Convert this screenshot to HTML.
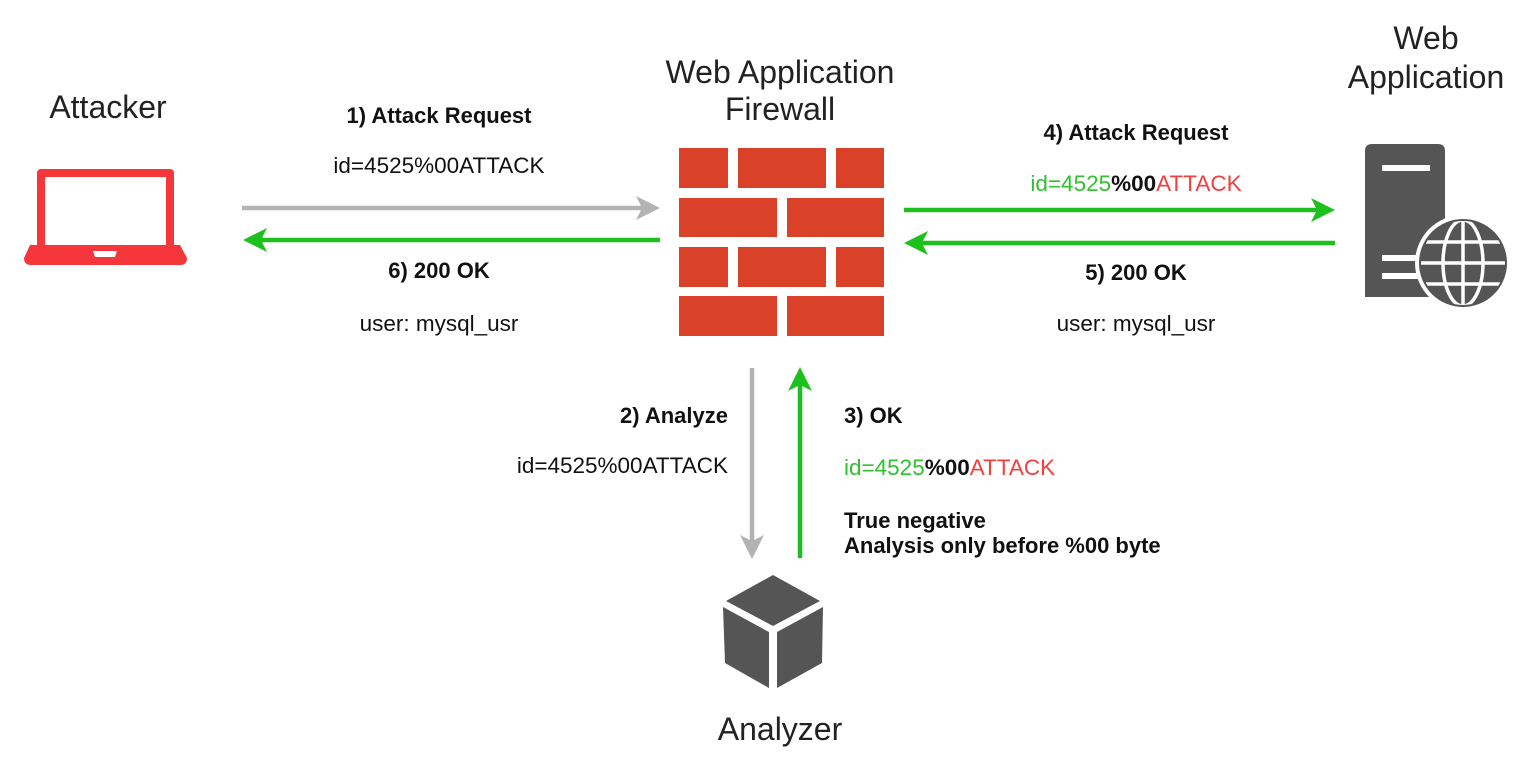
<!DOCTYPE html>
<html><head><meta charset="utf-8"><style>
html,body{margin:0;padding:0;background:#fff;}
svg{display:block;}
text{font-family:"Liberation Sans",Arial,sans-serif;}
</style></head><body>
<svg width="1536" height="757" viewBox="0 0 1536 757" xmlns="http://www.w3.org/2000/svg">
<rect width="1536" height="757" fill="#fff"/>
<!-- titles -->
<g font-size="32" fill="#222" text-anchor="middle">
<text x="108" y="118">Attacker</text>
<text x="780" y="83">Web Application</text>
<text x="780" y="120">Firewall</text>
<text x="1426" y="49">Web</text>
<text x="1426" y="88">Application</text>
<text x="780" y="740">Analyzer</text>
</g>
<!-- laptop -->
<rect x="37" y="169" width="137" height="80" rx="4" fill="#f5363a"/>
<rect x="45" y="177" width="121" height="68" fill="#fff"/>
<path d="M30 245 H180 L187 258 Q187 265 180 265 H31 Q24 265 24 258 Z" fill="#f5363a"/>
<path d="M93 251 H117 L115 257 H95 Z" fill="#fff"/>
<!-- wall -->
<g fill="#d94128">
<rect x="679" y="148" width="49" height="40"/><rect x="738" y="148" width="88" height="40"/><rect x="836" y="148" width="48" height="40"/>
<rect x="679" y="198" width="98" height="39"/><rect x="787" y="198" width="97" height="39"/>
<rect x="679" y="247" width="49" height="40"/><rect x="738" y="247" width="88" height="40"/><rect x="836" y="247" width="48" height="40"/>
<rect x="679" y="296" width="98" height="40"/><rect x="787" y="296" width="97" height="40"/>
</g>
<!-- server -->
<path d="M1372 144 H1438 Q1445 144 1445 151 V297 H1365 V151 Q1365 144 1372 144 Z" fill="#555"/>
<rect x="1382" y="165" width="48" height="6" fill="#fff"/>
<rect x="1382" y="255" width="40" height="6" fill="#fff"/>
<rect x="1382" y="273" width="40" height="6" fill="#fff"/>
<circle cx="1463" cy="263" r="48" fill="#fff"/>
<circle cx="1463" cy="263" r="43" fill="#555"/>
<g stroke="#fff" stroke-width="3.5" fill="none">
<ellipse cx="1463" cy="263" rx="20" ry="43"/>
<line x1="1463" y1="220" x2="1463" y2="306"/>
<line x1="1420" y1="263" x2="1506" y2="263"/>
<line x1="1426" y1="242" x2="1500" y2="242"/>
<line x1="1426" y1="284" x2="1500" y2="284"/>
</g>
<circle cx="1463" cy="263" r="43" fill="none" stroke="#555" stroke-width="2"/>
<!-- cube -->
<polygon points="773,575 820,601 773,626 726,601" fill="#555"/>
<polygon points="723,607 769,632 769,688 725,663" fill="#555"/>
<polygon points="823,607 777,632 777,688 822,663" fill="#555"/>
<!-- arrows -->
<g stroke-width="4.5">
<line x1="242" y1="208" x2="645" y2="208" stroke="#b3b3b3"/>
<line x1="660" y1="240" x2="258" y2="240" stroke="#1ec01e"/>
<line x1="904" y1="210" x2="1320" y2="210" stroke="#1ec01e"/>
<line x1="1335" y1="243" x2="920" y2="243" stroke="#1ec01e"/>
<line x1="752" y1="368" x2="752" y2="545" stroke="#b3b3b3"/>
<line x1="800" y1="558" x2="800" y2="382" stroke="#1ec01e"/>
</g>
<polygon points="660,208 636,196 642,208 636,220" fill="#b3b3b3"/>
<polygon points="243,240 267,228 261,240 267,252" fill="#1ec01e"/>
<polygon points="1335,210 1311,198 1317,210 1311,222" fill="#1ec01e"/>
<polygon points="904,243 928,231 922,243 928,255" fill="#1ec01e"/>
<polygon points="752,559 740,535 752,541 764,535" fill="#b3b3b3"/>
<polygon points="800,367 788,391 800,385 812,391" fill="#1ec01e"/>
<!-- labels -->
<g font-size="22.5" fill="#111">
<text x="439" y="123" font-weight="bold" font-size="22" text-anchor="middle">1) Attack Request</text>
<text x="439" y="173" text-anchor="middle">id=4525%00ATTACK</text>
<text x="439" y="278" font-weight="bold" font-size="22" text-anchor="middle">6) 200 OK</text>
<text x="439" y="331" text-anchor="middle">user: mysql_usr</text>
<text x="1136" y="140" font-weight="bold" font-size="22" text-anchor="middle">4) Attack Request</text>
<text x="1136" y="191" text-anchor="middle"><tspan fill="#2fc12f">id=4525</tspan><tspan font-weight="bold">%00</tspan><tspan fill="#f0403f">ATTACK</tspan></text>
<text x="1136" y="280" font-weight="bold" font-size="22" text-anchor="middle">5) 200 OK</text>
<text x="1136" y="331" text-anchor="middle">user: mysql_usr</text>
<text x="728" y="423" font-weight="bold" font-size="22" text-anchor="end">2) Analyze</text>
<text x="728" y="473" text-anchor="end">id=4525%00ATTACK</text>
<text x="844" y="423" font-weight="bold" font-size="22">3) OK</text>
<text x="844" y="475"><tspan fill="#2fc12f">id=4525</tspan><tspan font-weight="bold">%00</tspan><tspan fill="#f0403f">ATTACK</tspan></text>
<text x="844" y="528" font-weight="bold" font-size="22">True negative</text>
<text x="844" y="553" font-weight="bold" font-size="22">Analysis only before %00 byte</text>
</g>
</svg>
</body></html>
